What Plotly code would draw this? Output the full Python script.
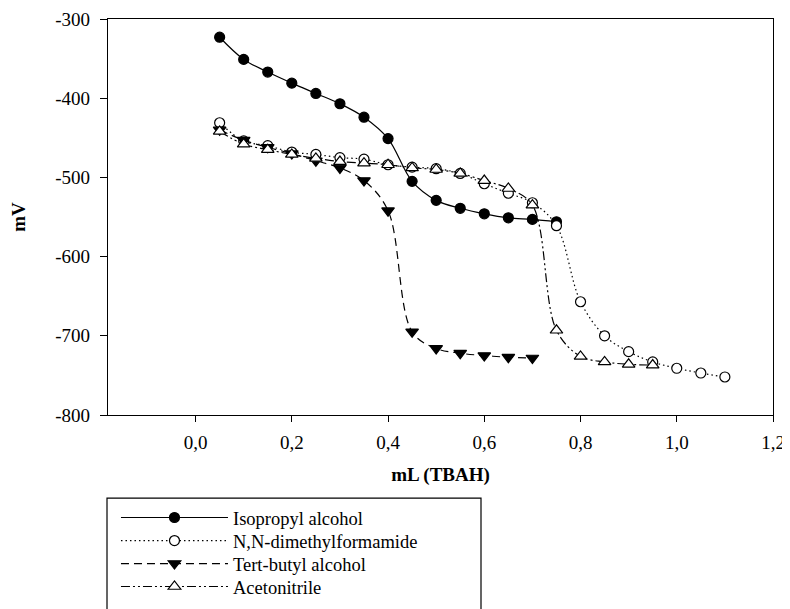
import plotly.graph_objects as go

# ---- data ----
x_ipa = [0.05, 0.10, 0.15, 0.20, 0.25, 0.30, 0.35, 0.40, 0.45, 0.50, 0.55, 0.60, 0.65, 0.70, 0.75]
y_ipa = [-323, -351, -367, -381, -394, -407, -424, -451, -505, -529, -539, -546, -551, -553, -556]

x_dmf = [0.05, 0.10, 0.15, 0.20, 0.25, 0.30, 0.35, 0.40, 0.45, 0.50, 0.55, 0.60, 0.65, 0.70, 0.75,
         0.80, 0.85, 0.90, 0.95, 1.00, 1.05, 1.10]
y_dmf = [-431, -454, -460, -468, -471, -475, -477, -484, -487, -489, -495, -508, -520, -532, -561,
         -657, -700, -720, -733, -741, -747, -752]

x_tba = [0.05, 0.10, 0.15, 0.20, 0.25, 0.30, 0.35, 0.40, 0.45, 0.50, 0.55, 0.60, 0.65, 0.70]
y_tba = [-440, -453, -462, -470, -479, -488, -504, -542, -695, -716, -722, -725, -727, -728]

x_acn = [0.05, 0.10, 0.15, 0.20, 0.25, 0.30, 0.35, 0.40, 0.45, 0.50, 0.55, 0.60, 0.65, 0.70, 0.75,
         0.80, 0.85, 0.90, 0.95]
y_acn = [-442, -458, -465, -471, -476, -480, -482, -484, -488, -490, -495, -504, -514, -535, -693,
         -726, -733, -736, -737]

names = ["Isopropyl alcohol", "N,N-dimethylformamide", "Tert-butyl alcohol", "Acetonitrile"]

x_tickvals = [0.0, 0.2, 0.4, 0.6, 0.8, 1.0, 1.2]
x_ticktext = ["0,0", "0,2", "0,4", "0,6", "0,8", "1,0", "1,2"]
y_tickvals = [-800, -700, -600, -500, -400, -300]
y_ticktext = ["-800", "-700", "-600", "-500", "-400", "-300"]

FONT = "Liberation Serif, Times New Roman, serif"

fig = go.Figure()

styles = [
    dict(dash="solid", symbol="circle", fill="black", size=10),
    dict(dash="1.5px,3px", symbol="circle", fill="white", size=10),
    dict(dash="8px,5px", symbol="triangle-down", fill="black", size=11),
    dict(dash="9px,3px,2px,3px,2px,3px", symbol="triangle-up", fill="white", size=11),
]
series = [(x_ipa, y_ipa), (x_dmf, y_dmf), (x_tba, y_tba), (x_acn, y_acn)]
legend_ids = ["legend", "legend2", "legend3", "legend4"]

for (xs, ys), nm, st, lg in zip(series, names, styles, legend_ids):
    fig.add_trace(go.Scatter(
        x=xs, y=ys, name=nm, mode="lines+markers", legend=lg,
        line=dict(color="black", width=1.2, dash=st["dash"], shape="spline", smoothing=1.0),
        marker=dict(symbol=st["symbol"], size=st["size"], color=st["fill"],
                    line=dict(color="black", width=1.2)),
    ))

# one legend box per entry so the row spacing can follow the reference
legend_rows = [-0.2601, -0.3182, -0.3763, -0.4343]
legend_layout = {}
for lg, yrow in zip(legend_ids, legend_rows):
    legend_layout[lg] = dict(
        x=0.012, y=yrow, xanchor="left", yanchor="middle",
        font=dict(family=FONT, size=18.5, color="black"),
        itemwidth=107, borderwidth=0, bgcolor="rgba(0,0,0,0)",
    )

fig.update_layout(
    width=782, height=601,
    margin=dict(l=100, r=17, t=11, b=194, autoexpand=False),
    paper_bgcolor="white", plot_bgcolor="white",
    font=dict(family=FONT, size=19, color="black"),
    showlegend=True,
    shapes=[dict(type="rect", xref="paper", yref="paper",
                 x0=-0.0015, x1=0.5609, y0=-0.21, y1=-0.58,
                 line=dict(color="black", width=1.2), fillcolor="rgba(0,0,0,0)", layer="below")],
    **legend_layout,
)

fig.update_xaxes(
    range=[-0.182, 1.2], tickvals=x_tickvals, ticktext=x_ticktext,
    showline=True, linecolor="black", linewidth=1.2, mirror=True,
    ticks="outside", ticklen=6, tickcolor="black", tickwidth=1.2,
    showgrid=False, zeroline=False,
    tickfont=dict(family=FONT, size=19), ticklabelstandoff=4,
    title=dict(text="<b>mL (TBAH)</b>", font=dict(family=FONT, size=19), standoff=15),
)
fig.update_yaxes(
    range=[-800, -300], tickvals=y_tickvals, ticktext=y_ticktext,
    showline=True, linecolor="black", linewidth=1.2, mirror=True,
    ticks="outside", ticklen=7, tickcolor="black", tickwidth=1.2,
    showgrid=False, zeroline=False,
    tickfont=dict(family=FONT, size=19), ticklabelstandoff=6,
    title=dict(text="<b>mV</b>", font=dict(family=FONT, size=19), standoff=29),
)

fig.write_html("out.html")
